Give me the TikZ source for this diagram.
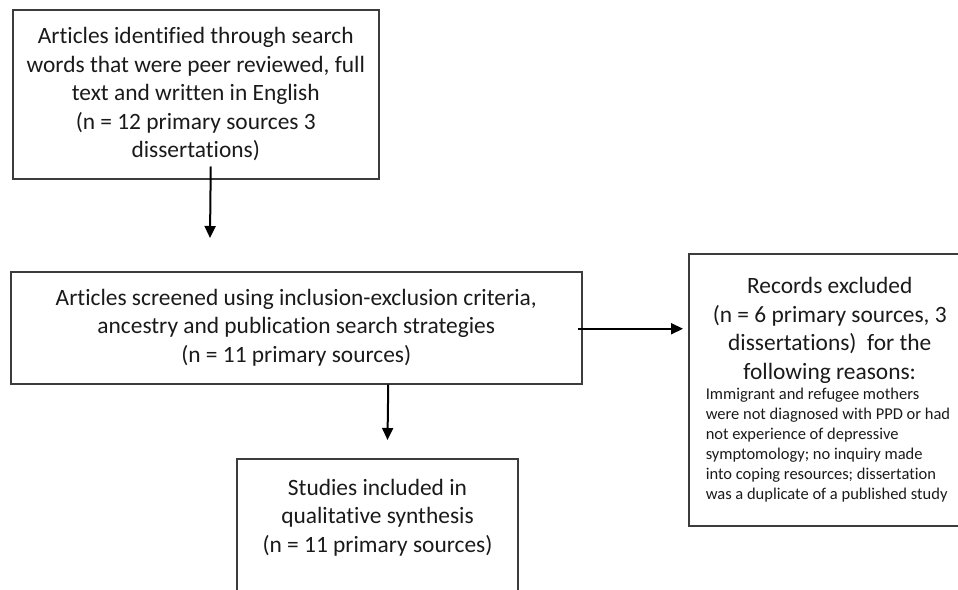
\documentclass[tikz,border=0pt]{standalone}
\usepackage{fontspec}
\setmainfont{Carlito}[Ligatures=NoCommon]
\usetikzlibrary{arrows.meta, calc}
\definecolor{boxgray}{RGB}{60,60,60}
\definecolor{inkblack}{RGB}{26,26,26}

\begin{document}
\begin{tikzpicture}[
    x=0.5pt, y=-0.5pt,
    every node/.style={font=\fontsize{11.7}{14.25}\selectfont, text=inkblack},
    stagebox/.style={draw=boxgray, line width=0.75pt, inner sep=0pt, align=center, anchor=north west},
    flow/.style={draw=black, line width=1pt, -{Triangle[length=6pt, width=5.5pt]}}
]
\useasboundingbox (0,0) rectangle (958,589);

% -------- Main column: identified -> screened -> included --------
\node[stagebox, minimum width=183pt, minimum height=84.5pt] (ident) at (12,9)
   {Articles identified through search\\words that were peer reviewed, full\\text and written in English\\(n = 12 primary sources 3\\dissertations)};
\node[stagebox, minimum width=285.5pt, minimum height=56pt] (screen) at (10,271)
   {Articles screened using inclusion-exclusion criteria,\\ancestry and publication search strategies\\(n = 11 primary sources)};
\node[stagebox, minimum width=140.5pt, anchor=north, inner ysep=10pt] (incl) at (377.5,458)
   {Studies included in\\qualitative synthesis\\(n = 11 primary sources)\\[50pt]\mbox{}};

% -------- Exclusion box (right, cut by the page edge) --------
\node[stagebox, minimum height=136pt, text width=133pt, inner xsep=8.5pt,
      align=flush left] (excl) at (688,253)
   {{\centering\advance\rightskip 9pt Records excluded\\(n = 6 primary sources, 3\\dissertations)\ \ for the\\following reasons:\par}
    {\fontsize{8.25}{10}\selectfont Immigrant and refugee mothers\\were not diagnosed with PPD or had\\not experience of depressive\\symptomology; no inquiry made\\into coping resources; dissertation\\was a duplicate of a published study\par}};

% -------- Flow arrows --------
\coordinate (tip1) at (210,238);
\draw[flow] ($(ident.south)+(15,-13)$) -- (tip1);
\draw[flow] ($(screen.east)+(-5,1)$) -- ($(excl.west |- screen.east)+(-5,1)$);
\draw[flow] ($(screen.south)+(92,0)$) -- ($(incl.north)+(10,-18)$);

\end{tikzpicture}
\end{document}
